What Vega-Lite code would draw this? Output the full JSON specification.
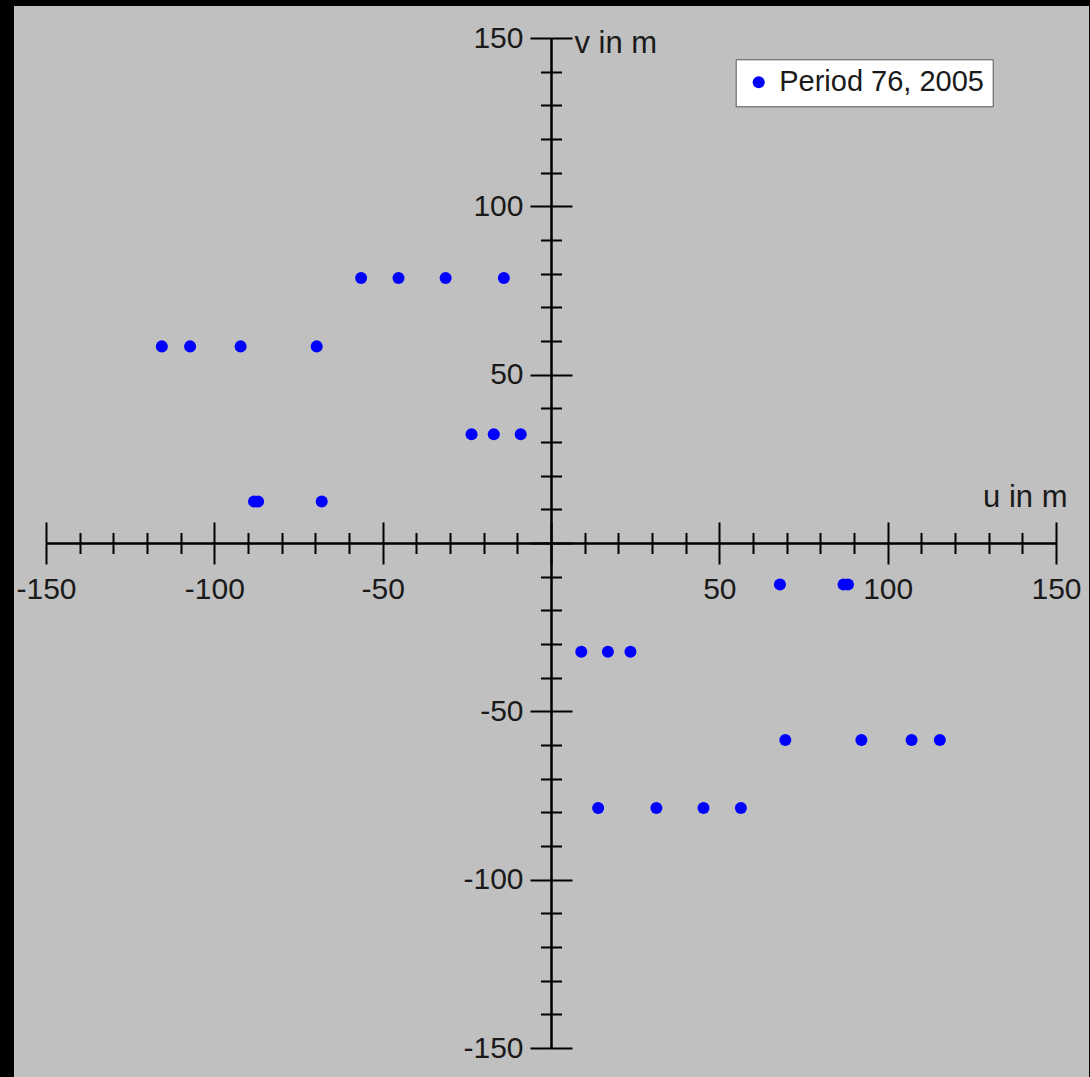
{
  "$schema": "https://vega.github.io/schema/vega-lite/v6.json",
  "width": 1075,
  "height": 1071,
  "padding": {"left": 14, "top": 6, "right": 1, "bottom": 0},
  "autosize": {"type": "none"},
  "background": "#000000",
  "view": {"fill": "#c0c0c0", "stroke": null},
  "config": {
    "axis": {
      "grid": false,
      "domainColor": "#000000",
      "domainWidth": 2,
      "tickColor": "#000000",
      "tickWidth": 2,
      "labelFont": "Liberation Sans",
      "labelFontSize": 30,
      "labelColor": "#1a1a1a",
      "titleFont": "Liberation Sans",
      "titleFontSize": 31,
      "titleFontWeight": "normal",
      "titleColor": "#1a1a1a"
    }
  },
  "data": {
    "values": [
      {"u": -56.4, "v": 78.7, "series": "Period 76, 2005"},
      {"u": -45.3, "v": 78.7, "series": "Period 76, 2005"},
      {"u": -31.3, "v": 78.7, "series": "Period 76, 2005"},
      {"u": -14.0, "v": 78.7, "series": "Period 76, 2005"},
      {"u": -115.6, "v": 58.4, "series": "Period 76, 2005"},
      {"u": -107.2, "v": 58.4, "series": "Period 76, 2005"},
      {"u": -92.2, "v": 58.4, "series": "Period 76, 2005"},
      {"u": -69.6, "v": 58.4, "series": "Period 76, 2005"},
      {"u": -23.6, "v": 32.3, "series": "Period 76, 2005"},
      {"u": -17.0, "v": 32.3, "series": "Period 76, 2005"},
      {"u": -9.0, "v": 32.3, "series": "Period 76, 2005"},
      {"u": -88.2, "v": 12.3, "series": "Period 76, 2005"},
      {"u": -87.0, "v": 12.3, "series": "Period 76, 2005"},
      {"u": -68.1, "v": 12.3, "series": "Period 76, 2005"},
      {"u": 68.0, "v": -12.3, "series": "Period 76, 2005"},
      {"u": 86.9, "v": -12.3, "series": "Period 76, 2005"},
      {"u": 88.2, "v": -12.3, "series": "Period 76, 2005"},
      {"u": 9.0, "v": -32.3, "series": "Period 76, 2005"},
      {"u": 16.9, "v": -32.3, "series": "Period 76, 2005"},
      {"u": 23.6, "v": -32.3, "series": "Period 76, 2005"},
      {"u": 69.6, "v": -58.5, "series": "Period 76, 2005"},
      {"u": 92.2, "v": -58.5, "series": "Period 76, 2005"},
      {"u": 107.1, "v": -58.5, "series": "Period 76, 2005"},
      {"u": 115.5, "v": -58.5, "series": "Period 76, 2005"},
      {"u": 14.0, "v": -78.7, "series": "Period 76, 2005"},
      {"u": 31.3, "v": -78.7, "series": "Period 76, 2005"},
      {"u": 45.3, "v": -78.7, "series": "Period 76, 2005"},
      {"u": 56.4, "v": -78.7, "series": "Period 76, 2005"}
    ]
  },
  "layer": [
    {
      "mark": {"type": "point", "filled": true, "shape": "circle", "size": 145, "opacity": 1},
      "encoding": {
        "x": {
          "field": "u", "type": "quantitative",
          "scale": {"domain": [-150, 150], "range": [32, 1042], "nice": false, "zero": false},
          "axis": {
            "orient": "bottom", "offset": -534,
            "values": [-150,-140,-130,-120,-110,-100,-90,-80,-70,-60,-50,-40,-30,-20,-10,0,10,20,30,40,50,60,70,80,90,100,110,120,130,140,150],
            "labelExpr": "datum.value % 50 === 0 && datum.value !== 0 ? '' + datum.value : ''",
            "tickSize": {"expr": "datum.value % 50 === 0 ? 21 : 10.5"},
            "labelPadding": 10.3,
            "labelOverlap": false,
            "labelFlush": false,
            "title": "u in m",
            "titleX": 1053, "titleY": -37,
            "titleAlign": "right", "titleAngle": 0, "titleBaseline": "alphabetic"
          }
        },
        "y": {
          "field": "v", "type": "quantitative",
          "scale": {"domain": [-150, 150], "range": [1042, 32], "nice": false, "zero": false},
          "axis": {
            "orient": "left", "offset": -537,
            "values": [-150,-140,-130,-120,-110,-100,-90,-80,-70,-60,-50,-40,-30,-20,-10,0,10,20,30,40,50,60,70,80,90,100,110,120,130,140,150],
            "labelExpr": "datum.value % 50 === 0 && datum.value !== 0 ? '' + datum.value : ''",
            "tickSize": {"expr": "datum.value % 50 === 0 ? 21 : 10.5"},
            "labelPadding": 7,
            "labelOverlap": false,
            "labelFlush": false,
            "title": "v in m",
            "titleX": 23, "titleY": 46,
            "titleAlign": "left", "titleAngle": 0, "titleBaseline": "alphabetic"
          }
        },
        "color": {
          "field": "series", "type": "nominal",
          "scale": {"range": ["#0000ff"]},
          "legend": {
            "orient": "none", "legendX": 721.7, "legendY": 53.3,
            "title": null,
            "fillColor": "#ffffff", "strokeColor": "#555555",
            "padding": 8.5,
            "labelFont": "Liberation Sans", "labelFontSize": 29, "labelColor": "#1a1a1a",
            "labelLimit": 600,
            "symbolType": "circle", "symbolSize": 145, "symbolStrokeWidth": 0,
            "symbolOffset": 0, "labelOffset": 6
          }
        }
      }
    },
    {
      "mark": {"type": "point", "filled": true, "shape": "circle", "size": 145, "opacity": 0},
      "encoding": {
        "x": {
          "field": "u", "type": "quantitative",
          "axis": {
            "orient": "top", "offset": -537,
            "values": [-150,-140,-130,-120,-110,-100,-90,-80,-70,-60,-50,-40,-30,-20,-10,0,10,20,30,40,50,60,70,80,90,100,110,120,130,140,150],
            "labels": false,
            "tickSize": {"expr": "datum.value % 50 === 0 ? 21 : 10.5"},
            "title": null
          }
        },
        "y": {
          "field": "v", "type": "quantitative",
          "axis": {
            "orient": "right", "offset": -538,
            "values": [-150,-140,-130,-120,-110,-100,-90,-80,-70,-60,-50,-40,-30,-20,-10,0,10,20,30,40,50,60,70,80,90,100,110,120,130,140,150],
            "labels": false,
            "tickSize": {"expr": "datum.value % 50 === 0 ? 21 : 10.5"},
            "title": null
          }
        }
      }
    }
  ],
  "resolve": {"axis": {"x": "independent", "y": "independent"}}
}
